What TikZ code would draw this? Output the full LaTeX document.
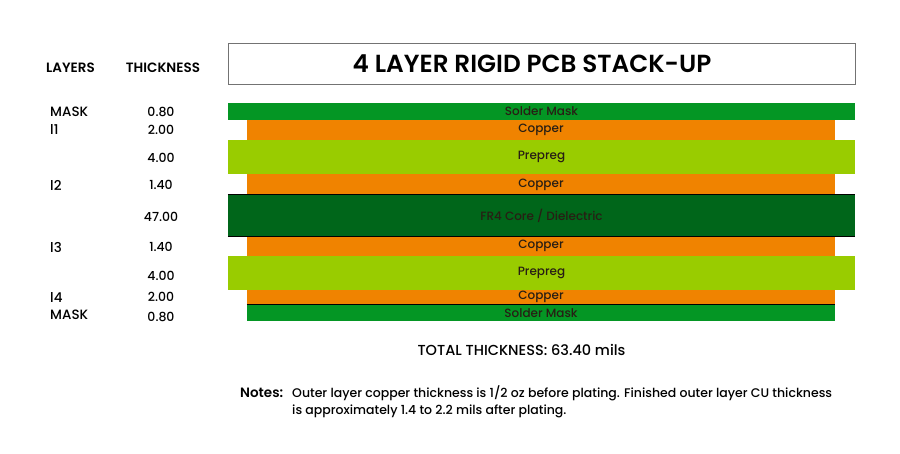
\documentclass[tikz,border=0pt]{standalone}
\usepackage{fontspec}
\setmainfont{Poppins}[UprightFont=* Medium, BoldFont=* SemiBold]
\definecolor{maskgreen}{RGB}{4,150,36}
\definecolor{copper}{RGB}{240,131,0}
\definecolor{prepreg}{RGB}{153,204,0}
\definecolor{fourcore}{RGB}{0,102,26}
\definecolor{labeltext}{RGB}{40,30,20}
\begin{document}
\begin{tikzpicture}[x=1pt,y=-1pt]
	\useasboundingbox (0,0) rectangle (900,453);
	\tikzset{
		layer/.style={inner sep=0pt, text=labeltext, font=\fontsize{12}{12}\selectfont},
		wide/.style={layer, minimum width=627pt},
		narrow/.style={layer, minimum width=588pt},
		colhead/.style={font=\bfseries\fontsize{13.5}{14}\selectfont},
		layername/.style={anchor=west, inner sep=0pt, font=\fontsize{13.5}{14}\selectfont},
		thickval/.style={inner sep=0pt, font=\fontsize{12.5}{14}\selectfont}
	}
	% title
	\node [draw=black!55, line width=0.8pt, minimum width=627pt, minimum height=41pt, inner sep=0pt] (titlebox) at (541.5,63.5) {};
	\node [font=\bfseries\fontsize{24.7}{26}\selectfont] (title) at (532,63.5) {4 LAYER RIGID PCB STACK-UP};
	\node [colhead] (hlayers) at (70.5,68) {LAYERS};
	\node [colhead] (hthick)  at (163,68)  {THICKNESS};
	% stack
	\node [wide, fill=maskgreen, minimum height=17pt]   (smtop) at (541.5,111.5) {Solder Mask};
	\node [narrow, fill=copper, minimum height=20pt]    (cua)   at (541,130)     {Copper};
	\node [wide, fill=prepreg, minimum height=34pt]     (ppa)   at (541.5,157)   {Prepreg};
	\node [narrow, fill=copper, minimum height=21pt]    (cub)   at (541,184.5)   {Copper};
	\node [wide, fill=fourcore, minimum height=41pt]    (core)  at (541.5,215.5) {FR4 Core / Dielectric};
	\node [narrow, fill=copper, minimum height=20pt]    (cuc)   at (541,246)     {Copper};
	\node [wide, fill=prepreg, minimum height=34pt]     (ppb)   at (541.5,273)   {Prepreg};
	\node [narrow, fill=copper, minimum height=14pt]    (cud)   at (541,297)     {Copper};
	\node [narrow, fill=maskgreen, minimum height=16pt] (smbot) at (541,313)     {Solder Mask};
	\draw [line width=0.8pt] (core.north west) -- (core.north east);
	\draw [line width=0.8pt] (core.south west) -- (core.south east);
	\draw [line width=1pt] (cud.south west) -- (cud.south east);
	% layer names
	\node [layername] (nmtop) at (50,112) {MASK};
	\node [layername] (nla)   at (50,130) {l1};
	\node [layername] (nlb)   at (50,185) {l2};
	\node [layername] (nlc)   at (50,247) {l3};
	\node [layername] (nld)   at (50,297) {l4};
	\node [layername] (nmbot) at (50,315) {MASK};
	% thickness values
	\node [thickval] (tmtop) at (161,112) {0.80};
	\node [thickval] (tcua)  at (161,130) {2.00};
	\node [thickval] (tppa)  at (161,158) {4.00};
	\node [thickval] (tcub)  at (161,185) {1.40};
	\node [thickval] (tcore) at (161,217) {47.00};
	\node [thickval] (tcuc)  at (161,247) {1.40};
	\node [thickval] (tppb)  at (161,276) {4.00};
	\node [thickval] (tcud)  at (161,297) {2.00};
	\node [thickval] (tmbot) at (161,317) {0.80};
	% totals and notes
	\node [font=\fontsize{14.5}{16}\selectfont] (total) at (521.5,350) {TOTAL THICKNESS: 63.40 mils};
	\node [anchor=north west, inner sep=0pt, align=left, font=\fontsize{12.5}{17}\selectfont] (notetext) at (292,385)
		{Outer layer copper thickness is 1/2 oz before plating. Finished outer layer CU thickness\\
		 is approximately 1.4 to 2.2 mils after plating.};
	\node [anchor=north west, inner sep=0pt, font=\bfseries\fontsize{13.5}{15}\selectfont] (notes) at (240,388) {Notes:};
\end{tikzpicture}
\end{document}
